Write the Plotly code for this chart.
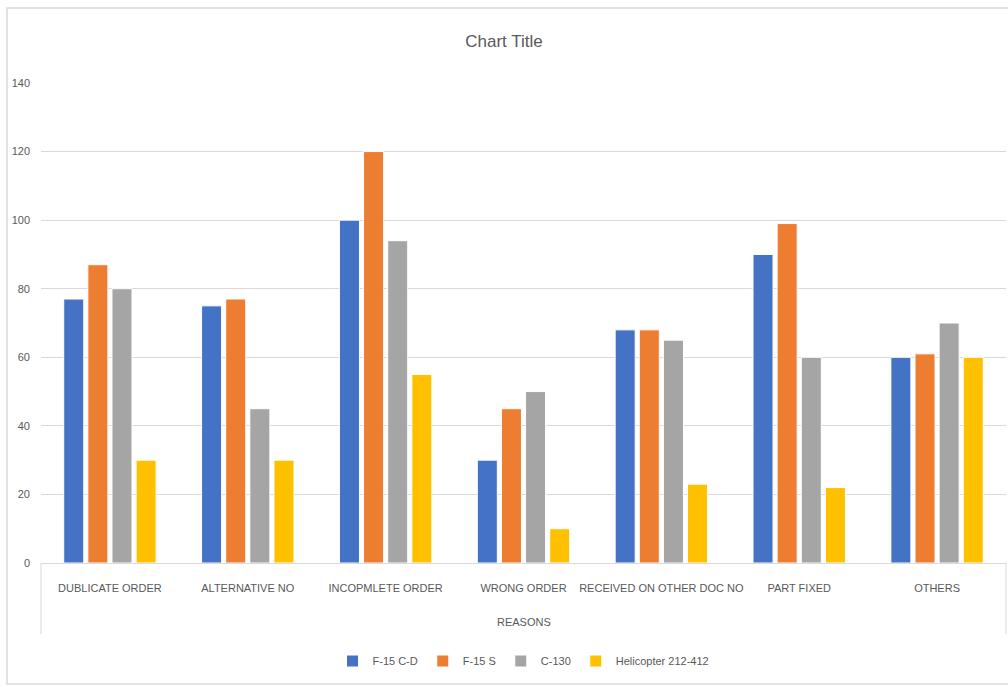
import plotly.graph_objects as go

categories = ["DUBLICATE ORDER", "ALTERNATIVE NO", "INCOPMLETE ORDER", "WRONG ORDER",
              "RECEIVED ON OTHER DOC NO", "PART FIXED", "OTHERS"]
f15cd = [77, 75, 100, 30, 68, 90, 60]
f15s = [87, 77, 120, 45, 68, 99, 61]
c130 = [80, 45, 94, 50, 65, 60, 70]
heli = [30, 30, 55, 10, 23, 22, 60]
series_names = ["F-15 C-D", "F-15 S", "C-130", "Helicopter 212-412"]
colors = ["#4472C4", "#ED7D31", "#A5A5A5", "#FFC000"]

FONT = "Liberation Sans Narrow, Arial Narrow, Liberation Sans, sans-serif"
W, H = 1008, 687
L, R, T, B = 41, 2, 83, 124
pw, ph = W - L - R, H - T - B

def px_x(p):
    return (p - L) / pw

def px_y(p):
    return (H - B - p) / ph

fig = go.Figure()
for name, vals, col in zip(series_names, [f15cd, f15s, c130, heli], colors):
    fig.add_trace(go.Bar(x=categories, y=vals, name=name,
                         marker=dict(color=col, line=dict(color="white", width=1))))

fig.update_layout(
    width=W, height=H,
    margin=dict(l=L, r=R, t=T, b=B, autoexpand=False),
    paper_bgcolor="white", plot_bgcolor="white",
    barmode="group", bargap=0.3, bargroupgap=0.17,
    font=dict(family=FONT, color="#595959", size=11),
    title=dict(text="Chart Title", x=0.5, xanchor="center", y=1 - 41 / H, yanchor="middle",
               font=dict(size=17, color="#595959", family=FONT)),
    xaxis=dict(showgrid=False, showline=True, linecolor="#D9D9D9", linewidth=1,
               ticks="", tickangle=0, automargin=False,
               tickfont=dict(size=11, color="#595959"), ticklabelstandoff=15),
    yaxis=dict(range=[0, 140], dtick=20, showgrid=True, gridcolor="#D9D9D9", gridwidth=1,
               zeroline=False, showline=False, ticks="", automargin=False,
               tickfont=dict(size=11, color="#595959"), ticklabelstandoff=10),
    legend=dict(orientation="h", x=0.5, xanchor="center", y=px_y(661), yanchor="middle",
                font=dict(size=11, color="#595959"), itemwidth=30, traceorder="normal"),
    showlegend=True,
)

fig.add_annotation(text="REASONS", xref="paper", yref="paper", x=0.5, y=px_y(622),
                   xanchor="center", yanchor="middle", showarrow=False,
                   font=dict(size=11, color="#595959", family=FONT))

shapes = [
    # outer chart border
    dict(type="rect", xref="paper", yref="paper", x0=px_x(7), x1=px_x(1012), y0=px_y(684), y1=px_y(8),
         line=dict(color="#D9D9D9", width=1.5), fillcolor="rgba(0,0,0,0)", layer="below"),
    # category axis box sides
    dict(type="line", xref="paper", yref="paper", x0=0, x1=0, y0=0, y1=px_y(634),
         line=dict(color="#D9D9D9", width=1)),
    dict(type="line", xref="paper", yref="paper", x0=1, x1=1, y0=0, y1=px_y(634),
         line=dict(color="#D9D9D9", width=1)),
]
fig.update_layout(shapes=shapes)

fig.write_html("out.html")
